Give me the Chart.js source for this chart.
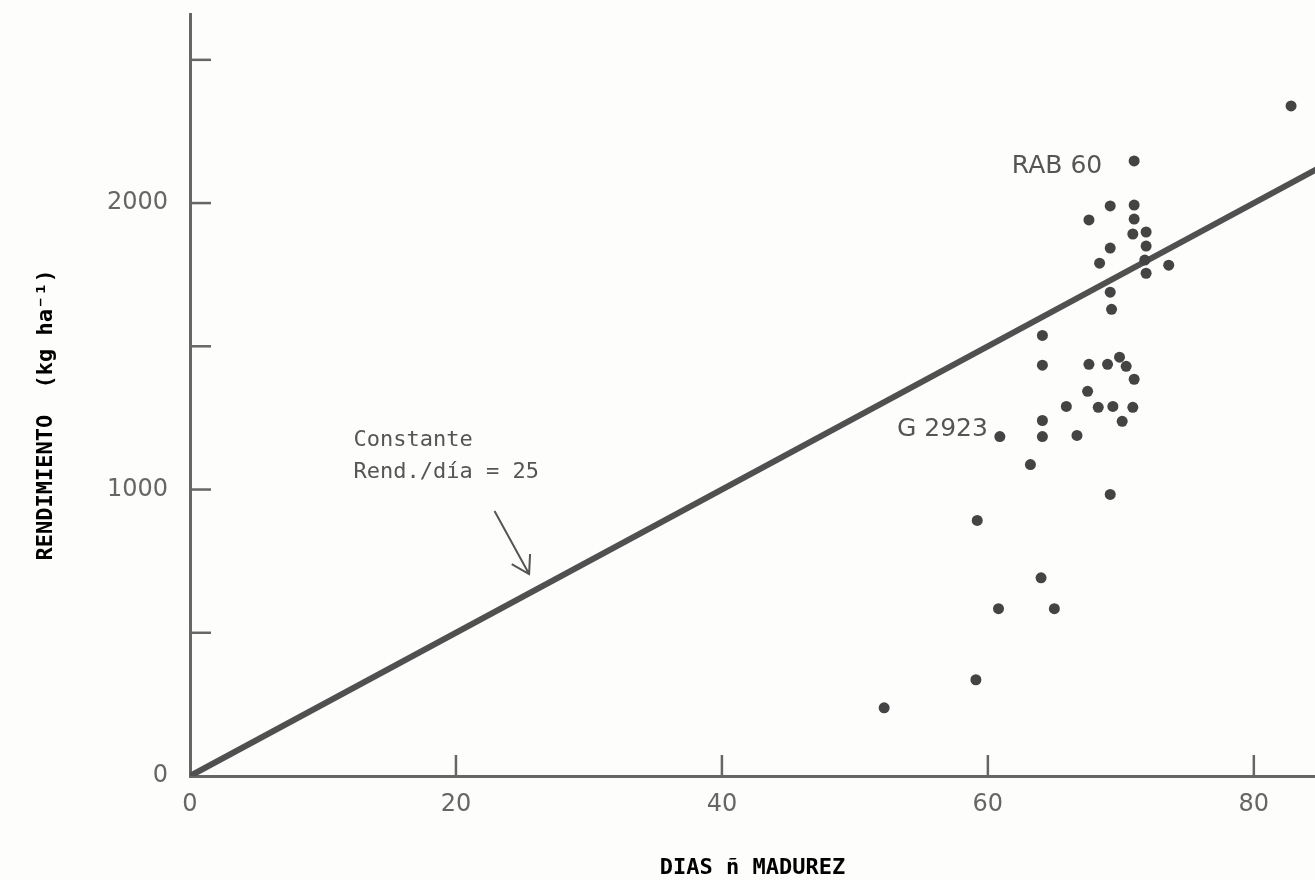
<!DOCTYPE html>
<html>
<head>
<meta charset="utf-8">
<script src="https://cdn.jsdelivr.net/npm/chart.js@4"></script>
<style>
  body { margin: 0; background: #fdfdfc; }
  #wrap { width: 1315px; height: 880px; }
</style>
</head>
<body>
<div id="wrap"><canvas id="madurezChart" width="1315" height="880"></canvas></div>
<script>
// dias a madurez vs rendimiento (kg/ha)
const diasMadurez = [
    82.8, 71.0, 69.2, 71.0, 67.6, 71.0, 70.9, 71.9, 69.2, 71.9,
    68.4, 71.8, 71.9, 73.6, 69.2, 69.3, 64.1, 64.1, 67.6, 69.0,
    69.9, 70.4, 71.0, 67.5, 65.9, 68.3, 69.4, 70.9, 70.1, 60.9,
    64.1, 64.1, 66.7, 63.2, 69.2, 59.2, 64.0, 60.8, 65.0, 59.1,
    52.2
];
const rendimiento = [
    2339, 2147, 1990, 1993, 1941, 1944, 1892, 1899, 1843, 1850,
    1790, 1801, 1755, 1783, 1689, 1629, 1538, 1434, 1437, 1437,
    1462, 1430, 1385, 1343, 1290, 1287, 1290, 1287, 1238, 1185,
    1241, 1185, 1189, 1087, 983, 892, 692, 584, 584, 336,
    238
];

// recta rend./dia = 25
const lineaX = [0, 90];
const lineaY = [0, 2250];

const xTicks = [0, 20, 40, 60, 80];
const yTicks = [0, 500, 1000, 1500, 2000, 2500];
const yLabels = [0, 1000, 2000];

const notas = [
    {text: "RAB 60", x: 68.6, y: 2126, align: "right", font: "25px 'DejaVu Sans'"},
    {text: "G 2923", x: 60.0, y: 1208, align: "right", font: "25px 'DejaVu Sans'"},
    {text: "Constante", x: 12.3, y: 1173, align: "left", font: "22px 'DejaVu Sans Mono'"},
    {text: "Rend./día = 25", x: 12.3, y: 1061, align: "left", font: "22px 'DejaVu Sans Mono'"}
];
const flecha = {x0: 22.9, y0: 925, x1: 25.5, y1: 705};

const grey = "#505050";

// marcas de division hacia dentro + textos
const extras = {
    id: "extras",
    afterDatasetsDraw(chart) {
        const c = chart.ctx;
        const xs = chart.scales.x, ys = chart.scales.y;
        c.save();
        c.strokeStyle = "#666";
        c.lineWidth = 2.5;
        yTicks.filter(v => v > 0).forEach(v => {
            const py = ys.getPixelForValue(v);
            c.beginPath();
            c.moveTo(xs.left, py);
            c.lineTo(xs.left + 21, py);
            c.stroke();
        });
        xTicks.filter(v => v > 0).forEach(v => {
            const px = xs.getPixelForValue(v);
            c.beginPath();
            c.moveTo(px, ys.bottom);
            c.lineTo(px, ys.bottom - 21);
            c.stroke();
        });

        c.fillStyle = "#555";
        c.textBaseline = "middle";
        notas.forEach(n => {
            c.font = n.font;
            c.textAlign = n.align;
            c.fillText(n.text, xs.getPixelForValue(n.x), ys.getPixelForValue(n.y));
        });

        const ax = xs.getPixelForValue(flecha.x0), ay = ys.getPixelForValue(flecha.y0);
        const bx = xs.getPixelForValue(flecha.x1), by = ys.getPixelForValue(flecha.y1);
        const ang = Math.atan2(by - ay, bx - ax);
        c.strokeStyle = "#555";
        c.lineWidth = 2;
        c.beginPath();
        c.moveTo(ax, ay);
        c.lineTo(bx, by);
        c.moveTo(bx - 20 * Math.cos(ang - 0.55), by - 20 * Math.sin(ang - 0.55));
        c.lineTo(bx, by);
        c.lineTo(bx - 20 * Math.cos(ang + 0.55), by - 20 * Math.sin(ang + 0.55));
        c.stroke();
        c.restore();
    }
};

const ctx = document.getElementById("madurezChart");
new Chart(ctx, {
    type: "scatter",
    data: {
        datasets: [
            {
                label: "Genotipos",
                data: diasMadurez.map((d, i) => ({x: d, y: rendimiento[i]})),
                backgroundColor: "#444",
                borderWidth: 0,
                pointRadius: 5.5,
                order: 1
            },
            {
                type: "line",
                label: "Rend./día = 25",
                data: lineaX.map((d, i) => ({x: d, y: lineaY[i]})),
                borderColor: grey,
                borderWidth: 6,
                pointRadius: 0,
                order: 2
            }
        ]
    },
    options: {
        responsive: false,
        animation: false,
        layout: { autoPadding: false, padding: { top: 14, right: 0, left: 0, bottom: 0 } },
        plugins: {
            legend: { display: false },
            tooltip: { enabled: false }
        },
        scales: {
            x: {
                type: "linear",
                min: 0,
                max: 84.6,
                afterBuildTicks: (s) => { s.ticks = xTicks.map(v => ({value: v})); },
                afterFit: (s) => {
                    s.height = 104;
                    s.paddingLeft = 0;
                    s.paddingRight = 0;
                },
                grid: { display: false },
                border: { display: true, color: "#666", width: 3 },
                ticks: {
                    padding: 6,
                    color: "#666",
                    font: { family: "'DejaVu Sans'", size: 24 },
                    maxRotation: 0,
                    autoSkip: false
                },
                title: {
                    display: true,
                    text: "DIAS ñ MADUREZ",
                    color: "#000",
                    font: { family: "'DejaVu Sans Mono'", size: 22, weight: "bold", lineHeight: 1.1 },
                    padding: 0
                }
            },
            y: {
                min: 0,
                max: 2660,
                afterBuildTicks: (s) => { s.ticks = yTicks.map(v => ({value: v})); },
                afterFit: (s) => {
                    s.width = 190;
                    s.paddingTop = 0;
                    s.paddingBottom = 0;
                },
                grid: { display: false },
                border: { display: true, color: "#666", width: 3 },
                ticks: {
                    padding: 14,
                    color: "#666",
                    font: { family: "'DejaVu Sans'", size: 24 },
                    callback: (v) => yLabels.includes(v) ? String(v) : ""
                },
                title: {
                    display: true,
                    text: "RENDIMIENTO  (kg ha⁻¹)   ",
                    color: "#000",
                    font: { family: "'DejaVu Sans Mono'", size: 22, weight: "bold" },
                    padding: { top: 33, bottom: 0 }
                }
            }
        }
    },
    plugins: [extras]
});
</script>
</body>
</html>
